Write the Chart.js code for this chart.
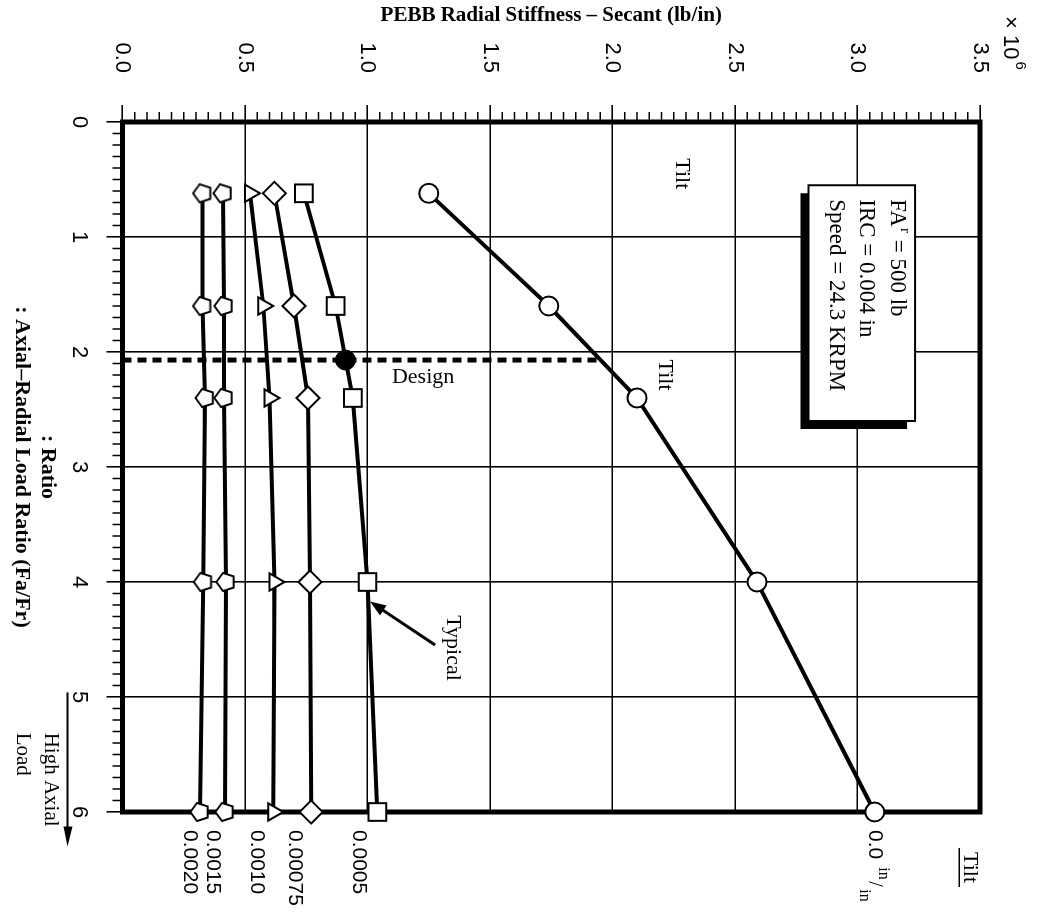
<!DOCTYPE html>
<html>
<head>
<meta charset="utf-8">
<script src="https://cdn.jsdelivr.net/npm/chart.js@4.4.0/dist/chart.umd.min.js"></script>
<style>
  html, body { margin: 0; padding: 0; background: #fff; overflow: hidden; }
  #wrap { position: relative; width: 1050px; height: 920px; }
  /* The chart is laid out with load ratio along the bottom, then turned a quarter clockwise */
  #c { position: absolute; left: 0; top: 0; transform-origin: 0 0; transform: translate(1050px, 0) rotate(90deg); }
</style>
</head>
<body>
<div id="wrap"><canvas id="c" width="920" height="1050" style="width:920px;height:1050px"></canvas></div>
<script>
// Axial-radial load ratios (Fa/Fr) at which the stiffness was evaluated
const loadRatios = [0.62, 1.6, 2.4, 4.0, 6.0];

// Secant radial stiffness, ×10^6 lb/in, one array per tilt (in/in)
const stiffTilt0000  = [1.25, 1.74, 2.10, 2.59, 3.07];
const stiffTilt0005  = [0.74, 0.87, 0.94, 1.00, 1.04];
const stiffTilt00075 = [0.62, 0.70, 0.757, 0.765, 0.77];
const stiffTilt0010  = [0.52, 0.575, 0.60, 0.62, 0.615];
const stiffTilt0015  = [0.41, 0.414, 0.414, 0.422, 0.418];
const stiffTilt0020  = [0.327, 0.327, 0.337, 0.33, 0.316];

// Design operating point
const designRatio = 2.07;
const designStiff = 0.91;
const designLineTop = 1.946;

// Tick values and labels
const ratioTicks = [0, 1, 2, 3, 4, 5, 6];
const ratioTickLabels = ['0', '1', '2', '3', '4', '5', '6'];
const stiffTicks = [0, 0.5, 1.0, 1.5, 2.0, 2.5, 3.0, 3.5];
const stiffTickLabels = ['0.0', '0.5', '1.0', '1.5', '2.0', '2.5', '3.0', '3.5'];

const serif = "'Liberation Serif', 'Times New Roman', serif";
const sans = "'Liberation Sans', Arial, sans-serif";

Chart.defaults.font.family = sans;
Chart.defaults.color = '#000';

function toPoints(vals) {
  return loadRatios.map((r, i) => ({ x: r, y: vals[i] }));
}

// Pentagon marker (white with black outline)
function pentagon(size, pointDown) {
  const c = document.createElement('canvas');
  c.width = c.height = size;
  const g = c.getContext('2d');
  const r = size / 2 - 1.5;
  const cx = size / 2, cy = size / 2;
  g.beginPath();
  for (let k = 0; k < 5; k++) {
    const ang = (pointDown ? Math.PI / 2 : -Math.PI / 2) + k * 2 * Math.PI / 5;
    const px = cx + r * Math.cos(ang), py = cy + r * Math.sin(ang);
    if (k === 0) g.moveTo(px, py); else g.lineTo(px, py);
  }
  g.closePath();
  g.fillStyle = '#fff';
  g.fill();
  g.lineWidth = 2;
  g.strokeStyle = '#000';
  g.stroke();
  return c;
}
const pentMark = pentagon(22, true);

const lineBase = {
  showLine: true,
  borderColor: '#000',
  borderWidth: 4,
  pointBackgroundColor: '#fff',
  pointBorderColor: '#000',
  pointBorderWidth: 2,
  clip: false
};

const frameAndTicks = {
  id: 'frameAndTicks',
  beforeDatasetsDraw(chart) {
    const { ctx, chartArea: a, scales: { x, y } } = chart;
    ctx.save();
    ctx.strokeStyle = '#000';
    ctx.lineWidth = 1.5;
    ctx.beginPath();
    for (let k = 1; k < 60; k++) {
      if (k % 10 === 0) continue;
      const u = x.getPixelForValue(k / 10);
      ctx.moveTo(u, a.bottom);
      ctx.lineTo(u, a.bottom + 10);
    }
    for (let k = 1; k < 70; k++) {
      if (k % 10 === 0) continue;
      const v = y.getPixelForValue(k / 20);
      ctx.moveTo(a.left - 10, v);
      ctx.lineTo(a.left, v);
    }
    ctx.stroke();
    ctx.lineWidth = 5;
    ctx.strokeRect(a.left, a.top, a.right - a.left, a.bottom - a.top);
    ctx.restore();
  }
};

const notes = {
  id: 'notes',
  afterDatasetsDraw(chart) {
    const { ctx, chartArea: a, scales: { x, y } } = chart;
    const U = r => x.getPixelForValue(r);
    const V = s => y.getPixelForValue(s);

    // text that reads across the turned page
    function across(str, u, v, font) {
      ctx.save();
      ctx.translate(u, v);
      ctx.rotate(-Math.PI / 2);
      ctx.font = font;
      ctx.textAlign = 'center';
      ctx.textBaseline = 'middle';
      ctx.fillText(str, 0, 0);
      ctx.restore();
    }
    // text that runs down the turned page
    function down(str, u, v, font, align) {
      ctx.save();
      ctx.font = font;
      ctx.textAlign = align || 'center';
      ctx.textBaseline = 'middle';
      ctx.fillText(str, u, v);
      const w = ctx.measureText(str).width;
      ctx.restore();
      return w;
    }

    ctx.save();
    ctx.fillStyle = '#000';
    ctx.strokeStyle = '#000';

    const f22 = `22px ${serif}`;
    across('Design', U(2.22), V(1.227), f22);
    down('Tilt', U(0.45), V(2.284), f22);
    down('Tilt', U(2.2), V(2.214), f22);
    down('Typical', U(4.574), V(1.349), f22);

    // arrow pointing at the typical curve
    const ax0 = U(4.548), ay0 = V(1.276), ax1 = U(4.17), ay1 = V(1.01);
    const ang = Math.atan2(ay1 - ay0, ax1 - ax0);
    ctx.lineWidth = 3;
    ctx.beginPath();
    ctx.moveTo(ax0, ay0);
    ctx.lineTo(ax1 - 10 * Math.cos(ang), ay1 - 10 * Math.sin(ang));
    ctx.stroke();
    ctx.beginPath();
    ctx.moveTo(ax1, ay1);
    ctx.lineTo(ax1 - 16 * Math.cos(ang) + 6 * Math.sin(ang), ay1 - 16 * Math.sin(ang) - 6 * Math.cos(ang));
    ctx.lineTo(ax1 - 16 * Math.cos(ang) - 6 * Math.sin(ang), ay1 - 16 * Math.sin(ang) + 6 * Math.cos(ang));
    ctx.closePath();
    ctx.fill();

    // operating conditions box with drop shadow
    const bu0 = U(0.55), bu1 = U(2.6), bv0 = V(3.235), bv1 = V(2.8);
    ctx.fillRect(bu0 + 8, bv0 + 8, bu1 - bu0, bv1 - bv0);
    ctx.fillStyle = '#fff';
    ctx.fillRect(bu0, bv0, bu1 - bu0, bv1 - bv0);
    ctx.lineWidth = 2;
    ctx.strokeRect(bu0, bv0, bu1 - bu0, bv1 - bv0);
    ctx.fillStyle = '#000';
    const f23 = `23px ${serif}`;
    const tu = bu0 + 14;
    let w = down('FA', tu, V(3.161), f23, 'left');
    down('r', tu + w + 1, V(3.161) - 8, `15px ${serif}`, 'left');
    down(' = 500 lb', tu + w + 7, V(3.161), f23, 'left');
    down('IRC = 0.004 in', tu, V(3.035), f23, 'left');
    down('Speed = 24.3 KRPM', tu, V(2.912), f23, 'left');

    // tilt value at the end of each curve
    const lu = a.right + 18;
    const f21 = `21px ${sans}`;
    down('0.0020', lu, V(stiffTilt0020[4]) + 10, f21, 'left');
    down('0.0015', lu, V(stiffTilt0015[4]) + 12, f21, 'left');
    down('0.0010', lu, V(stiffTilt0010[4]) + 16, f21, 'left');
    down('0.00075', lu, V(stiffTilt00075[4]) + 16, f21, 'left');
    down('0.0005', lu, V(stiffTilt0005[4]) + 19, f21, 'left');
    const vz = V(stiffTilt0000[4]);
    w = down('0.0', lu, vz, f21, 'left');
    down('in', lu + w + 8, vz - 9, `16px ${serif}`, 'left');
    down('/', lu + w + 22, vz, `20px ${serif}`, 'left');
    down('in', lu + w + 30, vz + 10, `16px ${serif}`, 'left');

    // heading of the tilt values
    const tw = down('Tilt', a.right + 40, V(3.46), f22, 'left');
    ctx.lineWidth = 1.5;
    ctx.beginPath();
    ctx.moveTo(a.right + 36, V(3.46) + 11);
    ctx.lineTo(a.right + 44 + tw, V(3.46) + 11);
    ctx.stroke();

    // high axial load direction
    const f20 = `21px ${serif}`;
    down('High Axial', U(5.31), a.bottom + 72, f20, 'left');
    down('Load', U(5.31), a.bottom + 100, f20, 'left');
    const hu0 = U(4.96), hu1 = U(6.3), hv = a.bottom + 55;
    ctx.lineWidth = 2;
    ctx.beginPath();
    ctx.moveTo(hu0, hv);
    ctx.lineTo(hu1 - 8, hv);
    ctx.stroke();
    ctx.beginPath();
    ctx.moveTo(hu1, hv);
    ctx.lineTo(hu1 - 20, hv - 5);
    ctx.lineTo(hu1 - 20, hv + 4);
    ctx.closePath();
    ctx.fill();

    // multiplier of the stiffness axis
    w = down('× 10', 16, a.top - 30, `22px ${sans}`, 'left');
    down('6', 16 + w + 2, a.top - 40, `15px ${sans}`, 'left');

    ctx.restore();
  }
};

new Chart(document.getElementById('c'), {
  type: 'scatter',
  data: {
    datasets: [
      { ...lineBase, label: '0.0020', data: toPoints(stiffTilt0020), pointStyle: pentMark, pointRadius: 10 },
      { ...lineBase, label: '0.0015', data: toPoints(stiffTilt0015), pointStyle: pentMark, pointRadius: 10 },
      { ...lineBase, label: '0.0010', data: toPoints(stiffTilt0010), pointStyle: 'triangle', pointRadius: 10 },
      { ...lineBase, label: '0.00075', data: toPoints(stiffTilt00075), pointStyle: 'rectRot', pointRadius: 11.5 },
      { ...lineBase, label: '0.0005', data: toPoints(stiffTilt0005), pointStyle: 'rect', pointRadius: 12.5 },
      { ...lineBase, label: '0.0', data: toPoints(stiffTilt0000), pointStyle: 'circle', pointRadius: 9.5 },
      {
        label: 'Design line',
        data: [{ x: designRatio, y: 0 }, { x: designRatio, y: designLineTop }],
        showLine: true, borderColor: '#000', borderWidth: 5, borderDash: [9, 6],
        pointRadius: 0, clip: false
      },
      {
        label: 'Design',
        data: [{ x: designRatio, y: designStiff }],
        pointStyle: 'circle', pointRadius: 10,
        pointBackgroundColor: '#000', pointBorderColor: '#000', clip: false
      }
    ]
  },
  options: {
    responsive: false,
    devicePixelRatio: 1,
    animation: false,
    events: [],
    layout: { padding: { left: 0, top: 70, right: 108, bottom: 0 } },
    plugins: { legend: { display: false }, tooltip: { enabled: false } },
    scales: {
      x: {
        type: 'linear', position: 'bottom', min: 0, max: 6,
        afterBuildTicks: s => { s.ticks = ratioTicks.map(v => ({ value: v })); },
        afterFit: s => { s.height = 122.5; },
        ticks: {
          autoSkip: false, maxRotation: 0, padding: 14,
          font: { size: 22, family: sans },
          callback: (v, i) => ratioTickLabels[i]
        },
        grid: { color: '#000', lineWidth: 1.6, tickLength: 16, tickColor: '#000', tickWidth: 1.6 },
        border: { display: false },
        title: {
          display: true,
          text: [': Ratio', ': Axial\u2013Radial Load Ratio (Fa/Fr)'],
          font: { size: 22, weight: 'bold', family: serif, lineHeight: 1.18 },
          padding: { top: 0, bottom: 9 }
        }
      },
      y: {
        type: 'linear', position: 'left', min: 0, max: 3.5,
        afterBuildTicks: s => { s.ticks = stiffTicks.map(v => ({ value: v })); },
        afterFit: s => { s.width = 122; },
        ticks: {
          autoSkip: false, padding: 32,
          font: { size: 22, family: sans },
          callback: (v, i) => stiffTickLabels[i]
        },
        grid: { color: '#000', lineWidth: 1.6, tickLength: 17, tickColor: '#000', tickWidth: 1.6 },
        border: { display: false },
        title: {
          display: true,
          text: 'PEBB Radial Stiffness \u2013 Secant (lb/in)',
          font: { size: 21, weight: 'bold', family: serif, lineHeight: 1.2 },
          padding: { top: 3, bottom: 0 }
        }
      }
    }
  },
  plugins: [frameAndTicks, notes]
});
</script>
</body>
</html>
